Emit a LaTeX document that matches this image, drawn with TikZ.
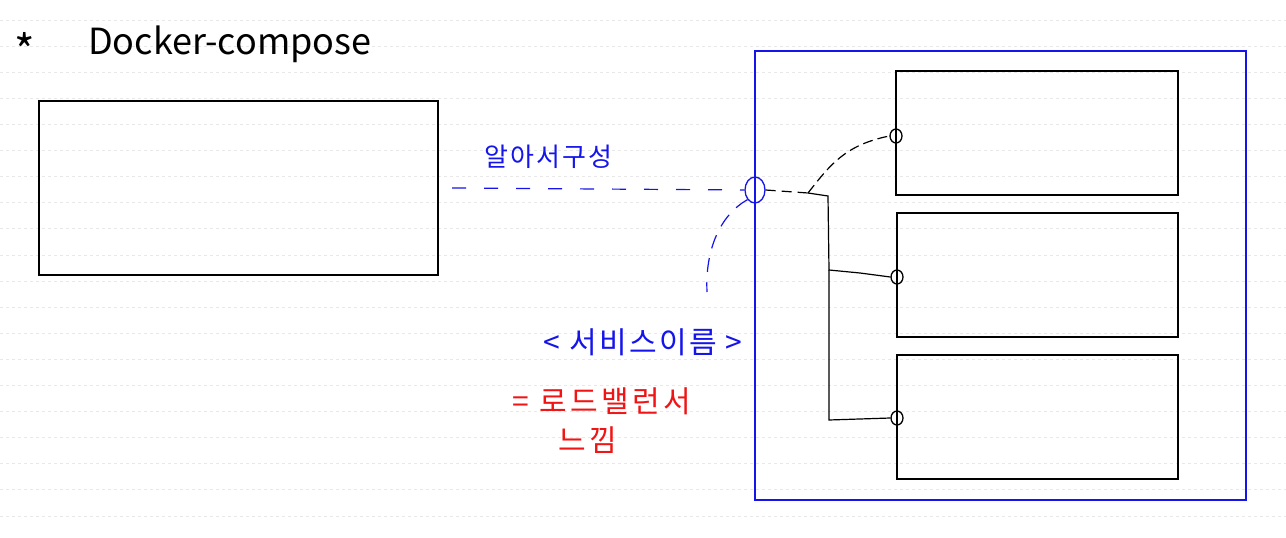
\documentclass[tikz,border=0pt]{standalone}
\usepackage{fontspec}
\setmainfont{Noto Sans CJK KR}
\newfontfamily\kr{Noto Sans CJK KR}
\newfontfamily\krwide[LetterSpace=8]{Noto Sans CJK KR}
\newfontfamily\krwider[LetterSpace=12]{Noto Sans CJK KR}
\usetikzlibrary{calc,shapes.geometric}
\definecolor{penblue}{RGB}{20,20,235}
\definecolor{penred}{RGB}{240,20,20}
\definecolor{ruleclr}{RGB}{232,232,232}
\tikzset{
  box/.style={draw=black, line width=1.3pt},
  outer/.style={draw=penblue, line width=1.3pt},
  port/.style={draw=black, line width=1.3pt, ellipse, minimum width=12pt, minimum height=14pt, inner sep=0pt},
  wire/.style={draw=black, line width=1.2pt},
  bluedash/.style={draw=penblue, line width=1.2pt, dash pattern=on 14pt off 18pt},
  blacktext/.style={text=black, font=\kr\fontsize{36}{36}\selectfont},
  bluetext/.style={text=penblue, font=\krwide\fontsize{26}{26}\selectfont},
  redtext/.style={text=penred, font=\krwider\fontsize{30}{30}\selectfont},
  ruled/.style={draw=ruleclr, line width=0.8pt, dash pattern=on 3pt off 3pt}
}
\begin{document}
\begin{tikzpicture}[x=1pt,y=-1pt]
\useasboundingbox[fill=white] (0,0) rectangle (1286,538);
% ruled background
\foreach \k in {0,...,19} {
  \draw[ruled] (0,{20+26.1*\k}) -- (1286,{20+26.1*\k});
}
% title
\node[blacktext, anchor=west, font=\kr\fontsize{44}{44}\selectfont, inner sep=0pt] (star) at (14,50) {*};
\node[blacktext, anchor=west, inner sep=0pt] (title) at (88,44) {Docker-compose};
% left box
\draw[box] (39,101) rectangle (438,275);
% outer blue box
\draw[outer] (755,51) rectangle (1246,500);
% inner boxes
\draw[box] (896,71) rectangle (1178,195);
\draw[box] (897,213) rectangle (1178,337);
\draw[box] (897,355) rectangle (1178,479);
% ports
\node[port] (p1) at (896,136) {};
\node[port] (p2) at (897,277) {};
\node[port] (p3) at (897,418) {};
\node[draw=penblue, line width=1.3pt, ellipse, minimum width=20pt, minimum height=26pt, inner sep=0pt] (svc) at (755,190) {};
% blue dashed from left box to service port
\coordinate (ds) at (452,188);
\draw[bluedash] (ds) -- (svc.west);
% junction
\coordinate (j) at (808,193);
\draw[wire, dash pattern=on 10pt off 6pt] (svc.east) -- (j);
\draw[wire, dash pattern=on 10pt off 5pt] (j) .. controls (830,165) and (845,145) .. (p1.west);
\coordinate (jr) at (828,196);
\coordinate (jm) at (829,270);
\coordinate (jb) at (829,420);
\draw[wire] (j) -- (jr) -- (jm) -- (860,273) -- (p2.west);
\draw[wire] (jm) -- (jb) -- (p3.west);
% labels
\node[bluetext, font=\krwide\fontsize{30}{30}\selectfont] (svcname) at (643,342) {\textless\ 서비스이름\ \textgreater};
\draw[draw=penblue, line width=1.2pt, dash pattern=on 14pt off 10pt] (svc.south west) .. controls (720,215) and (705,250) .. (707,292);
\node[bluetext] (auto) at (548,157) {알아서구성};
\node[redtext, anchor=west, inner sep=0pt] (lb1) at (512,401) {=\ 로드밸런서};
\node[redtext] (lb2) at (588,440) {느낌};
\end{tikzpicture}
\end{document}
